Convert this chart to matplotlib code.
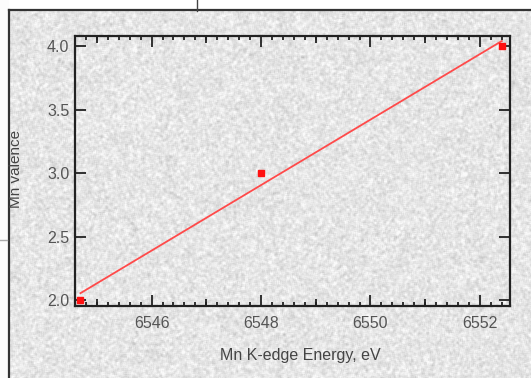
import numpy as np
import matplotlib.pyplot as plt
from matplotlib.ticker import MultipleLocator, FixedLocator

plt.rcParams['font.family'] = ['Liberation Sans', 'DejaVu Sans']

# Mn K-edge positions for the reference oxides and their valence
energy = [6544.7, 6548.0, 6552.4]
valence = [2.0, 3.0, 4.0]

x_ticks = [6546, 6548, 6550, 6552]
y_ticks = [2.0, 2.5, 3.0, 3.5, 4.0]

W, H = 531, 378
fig = plt.figure(figsize=(W / 100, H / 100), dpi=100)

# grainy paper background inside the outer frame
rng = np.random.default_rng(7)
grain = rng.normal(0, 1, (H + 2, W + 2))
grain = sum(grain[i:i + H, j:j + W] for i in range(3) for j in range(3)) / 3
tex = np.clip(229 + 8 * grain, 190, 250)
tex[:10, :] = 255
tex[:, :9] = 252
bg = fig.add_axes([0, 0, 1, 1], zorder=-10)
bg.imshow(tex, cmap='gray', vmin=0, vmax=255, extent=(0, W, H, 0),
          aspect='auto', interpolation='bilinear')
bg.plot([9, W], [10, 10], color='#333333', lw=1.6)
bg.plot([9, 9], [10, H], color='#333333', lw=1.6)
bg.plot([196.5, 196.5], [0, 11], color='#444444', lw=1)
bg.plot([0, 7], [240, 240], color='#aaaaaa', lw=1)
bg.set_xlim(0, W)
bg.set_ylim(H, 0)
bg.axis('off')

ax = fig.add_axes([75 / W, 1 - 306 / H, 435 / W, 270 / H])
ax.patch.set_alpha(0)

fit = np.polyfit(energy, valence, 1)
xs = np.array([energy[0], energy[-1]])
ax.plot(xs, np.polyval(fit, xs), color='#ff4a4a', lw=1.3, zorder=3)
ax.plot(energy, valence, 's', color='#ff1010', ms=5, zorder=4)

ax.set_xlim(6544.6, 6552.55)
ax.set_ylim(1.953, 4.08)
ax.set_xticks(x_ticks)
ax.set_yticks(y_ticks)
ax.set_yticklabels([f'{v:.1f}' for v in y_ticks])
ax.xaxis.set_minor_locator(MultipleLocator(0.2))

for s in ax.spines.values():
    s.set_linewidth(1.6)
    s.set_color('#222222')

ax.tick_params(axis='both', which='major', direction='in', length=8,
               width=1.3, color='#222222', labelsize=11.5,
               labelcolor='#555555', top=True, right=True)
ax.tick_params(axis='x', which='minor', direction='in', length=3,
               width=1.3, color='#222222', top=True)
ax.tick_params(axis='y', which='major', pad=4)
ax.tick_params(axis='x', which='major', pad=7)

# medium ticks at the odd eV positions
odd = [6545, 6547, 6549, 6551]
for loc in ['bottom', 'top']:
    sec = ax.secondary_xaxis(loc)
    sec.xaxis.set_major_locator(FixedLocator(odd))
    sec.tick_params(direction='in', length=5, width=1.3, color='#222222',
                    labelbottom=False, labeltop=False)
    sec.spines[loc].set_visible(False)

ax.set_xlabel('Mn K-edge Energy, eV', fontsize=11.5, color='#444444')
ax.set_ylabel('Mn valence', fontsize=11, color='#444444')
ax.xaxis.set_label_coords((300 - 75) / 435, (306 - 348) / 270)
ax.yaxis.set_label_coords((23 - 75) / 435, (306 - 169) / 270)

fig.savefig('out.png', dpi=100)
